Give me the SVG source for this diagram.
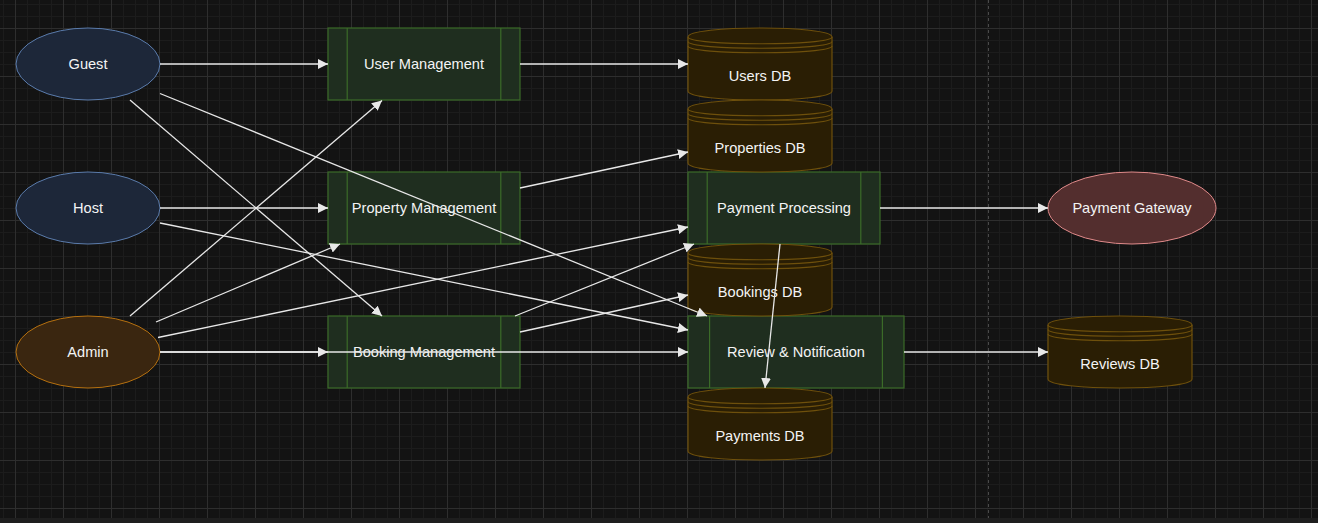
<svg xmlns="http://www.w3.org/2000/svg" width="1318" height="523" viewBox="0 0 1318 523">
<style>
.lbl{font-family:"Liberation Sans",Arial,sans-serif;font-size:14.6px;fill:#f4f4f4;text-anchor:middle;dominant-baseline:central}
.actor{fill:#1d2739;stroke:#5a7bab;stroke-width:1}
.admin{fill:#3a2610;stroke:#b5700f;stroke-width:1}
.ext{fill:#532e2e;stroke:#e08a8a;stroke-width:1}
.proc{fill:#1f2e1f;stroke:#3b6b28;stroke-width:1.2}
.db{fill:#2a1e04;stroke:#6e500c;stroke-width:1.2}
.dbl{fill:none;stroke:#6e500c;stroke-width:1.2}
.edge{fill:none;stroke:#e8e8e8;stroke-width:1.3}
</style>
<defs>
<pattern id="gMinor" patternUnits="userSpaceOnUse" x="3" y="4" width="12" height="12">
<path d="M0,0.5H12M0.5,0V12" stroke="#1c1c1c" stroke-width="1" fill="none"/>
</pattern>
<pattern id="gMajor" patternUnits="userSpaceOnUse" x="15" y="28" width="48" height="48">
<path d="M0,0.5H48M0.5,0V48" stroke="#2e2e2e" stroke-width="1" fill="none"/>
</pattern>
<marker id="arr" markerUnits="userSpaceOnUse" markerWidth="11" markerHeight="10" refX="10" refY="5" orient="auto">
<path d="M0,0L10,5L0,10Z" fill="#e8e8e8"/>
</marker>
</defs>
<rect width="1318" height="523" fill="#131313"/>
<rect width="1318" height="523" fill="url(#gMinor)"/>
<rect width="1318" height="523" fill="url(#gMajor)"/>
<line x1="988.5" y1="0" x2="988.5" y2="518" stroke="#4a4a4a" stroke-dasharray="3 3"/>
<rect x="0" y="518" width="1318" height="5" fill="#1e1e1e"/>

<g id="guest"><ellipse class="actor" cx="88" cy="64" rx="72" ry="36"/><text class="lbl" x="88" y="64">Guest</text></g>
<g id="host"><ellipse class="actor" cx="88" cy="208" rx="72" ry="36"/><text class="lbl" x="88" y="208">Host</text></g>
<g id="admin"><ellipse class="admin" cx="88" cy="352" rx="72" ry="36"/><text class="lbl" x="88" y="352">Admin</text></g>

<g id="user-management"><rect class="proc" x="328" y="28" width="192" height="72"/><path class="proc" d="M347.2,28V100M500.8,28V100" fill="none"/><text class="lbl" x="424" y="64">User Management</text></g>
<g id="property-management"><rect class="proc" x="328" y="172" width="192" height="72"/><path class="proc" d="M347.2,172V244M500.8,172V244" fill="none"/><text class="lbl" x="424" y="208">Property Management</text></g>
<g id="booking-management"><rect class="proc" x="328" y="316" width="192" height="72"/><path class="proc" d="M347.2,316V388M500.8,316V388" fill="none"/><text class="lbl" x="424" y="352">Booking Management</text></g>
<g id="payment-processing"><rect class="proc" x="688" y="172" width="192" height="72"/><path class="proc" d="M707.2,172V244M860.8,172V244" fill="none"/><text class="lbl" x="784" y="208">Payment Processing</text></g>
<g id="review-notification"><rect class="proc" x="688" y="316" width="216" height="72"/><path class="proc" d="M709.6,316V388M882.4,316V388" fill="none"/><text class="lbl" x="796" y="352">Review &amp; Notification</text></g>

<g id="users-db" transform="translate(688,28)"><path class="db" d="M0,9C0,-3 144,-3 144,9L144,63C144,75 0,75 0,63Z"/><path class="dbl" d="M0,9C0,18 144,18 144,9M0,13.5C0,22.5 144,22.5 144,13.5M0,18C0,27 144,27 144,18"/><text class="lbl" x="72" y="48">Users DB</text></g>
<g id="properties-db" transform="translate(688,100)"><path class="db" d="M0,9C0,-3 144,-3 144,9L144,63C144,75 0,75 0,63Z"/><path class="dbl" d="M0,9C0,18 144,18 144,9M0,13.5C0,22.5 144,22.5 144,13.5M0,18C0,27 144,27 144,18"/><text class="lbl" x="72" y="48">Properties DB</text></g>
<g id="bookings-db" transform="translate(688,244)"><path class="db" d="M0,9C0,-3 144,-3 144,9L144,63C144,75 0,75 0,63Z"/><path class="dbl" d="M0,9C0,18 144,18 144,9M0,13.5C0,22.5 144,22.5 144,13.5M0,18C0,27 144,27 144,18"/><text class="lbl" x="72" y="48">Bookings DB</text></g>
<g id="payments-db" transform="translate(688,388)"><path class="db" d="M0,9C0,-3 144,-3 144,9L144,63C144,75 0,75 0,63Z"/><path class="dbl" d="M0,9C0,18 144,18 144,9M0,13.5C0,22.5 144,22.5 144,13.5M0,18C0,27 144,27 144,18"/><text class="lbl" x="72" y="48">Payments DB</text></g>
<g id="reviews-db" transform="translate(1048,316)"><path class="db" d="M0,9C0,-3 144,-3 144,9L144,63C144,75 0,75 0,63Z"/><path class="dbl" d="M0,9C0,18 144,18 144,9M0,13.5C0,22.5 144,22.5 144,13.5M0,18C0,27 144,27 144,18"/><text class="lbl" x="72" y="48">Reviews DB</text></g>

<g id="payment-gateway"><ellipse class="ext" cx="1132" cy="208" rx="84" ry="36"/><text class="lbl" x="1132" y="208">Payment Gateway</text></g>

<g id="connectors">
<path class="edge" marker-end="url(#arr)" d="M160,64H328"/>
<path class="edge" marker-end="url(#arr)" d="M520,64H688"/>
<path class="edge" marker-end="url(#arr)" d="M130,100L382,316"/>
<path class="edge" marker-end="url(#arr)" d="M160,93.5L707,316"/>
<path class="edge" marker-end="url(#arr)" d="M160,208H328"/>
<path class="edge" marker-end="url(#arr)" d="M160,223L688,330"/>
<path class="edge" marker-end="url(#arr)" d="M130,316L382,100.5"/>
<path class="edge" marker-end="url(#arr)" d="M156,322L340,244"/>
<path class="edge" marker-end="url(#arr)" d="M158,337.5L688,227"/>
<path class="edge" marker-end="url(#arr)" d="M160,352H328"/>
<path class="edge" marker-end="url(#arr)" d="M160,352H688"/>
<path class="edge" marker-end="url(#arr)" d="M520,188L688,152"/>
<path class="edge" marker-end="url(#arr)" d="M520,332L688,295"/>
<path class="edge" marker-end="url(#arr)" d="M515,316L694,244"/>
<path class="edge" marker-end="url(#arr)" d="M880,208H1048"/>
<path class="edge" marker-end="url(#arr)" d="M780,244L765,388"/>
<path class="edge" marker-end="url(#arr)" d="M904,352H1048"/>
</g>
</svg>
